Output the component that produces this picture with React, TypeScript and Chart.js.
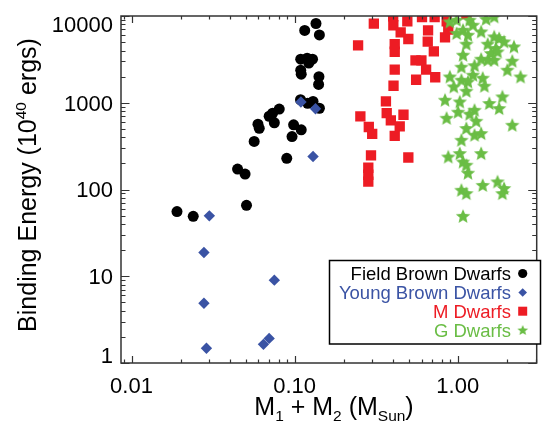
import { useEffect, useRef } from 'react';
import { Chart, registerables } from 'chart.js';

Chart.register(...registerables);

// ---------------- data ----------------
const fieldMass = [0.019, 0.0239, 0.0507, 0.0447, 0.0497, 0.0565, 0.0596, 0.0607, 0.0698, 0.0733, 0.0751, 0.0805, 0.0895, 0.0964, 0.0986, 0.1098, 0.1087, 0.1202, 0.1297, 0.1419, 0.1352, 0.1153, 0.1419, 0.109, 0.1193, 0.1288, 0.1222, 0.109, 0.1098, 0.141, 0.1403];
const fieldEnergy = [55.7, 49.1, 65.7, 172, 150.5, 358, 565, 508, 699, 757, 588, 846, 229, 408, 557, 488, 1083, 987, 1035, 864, 8194, 6823, 6053, 3175, 3262, 3175, 2870, 2371, 2132, 1995, 1626];

const youngMass = [0.030, 0.0278, 0.0278, 0.0288, 0.0751, 0.0644, 0.0698, 0.1093, 0.1343, 0.1297];
const youngEnergy = [49.7, 18.8, 4.89, 1.48, 9.02, 1.64, 1.92, 1019, 853, 240];

const mMass = [0.306, 0.402, 0.403, 0.491, 0.604, 0.722, 0.856, 1.13, 0.447, 0.498, 0.658, 0.655, 0.836, 0.875, 0.245, 0.411, 0.411, 0.714, 0.551, 0.599, 0.640, 0.411, 0.556, 0.728, 0.404, 0.363, 0.253, 0.367, 0.465, 0.389, 0.285, 0.441, 0.299, 0.411, 0.294, 0.498, 0.283, 0.283, 0.283];
const mEnergy = [8150, 9900, 7830, 8665, 9690, 9690, 8665, 10500, 6475, 5435, 6823, 5055, 5660, 6950, 4583, 4731, 3873, 3908, 3078, 3078, 2405, 2405, 1841, 1968, 1571, 1035, 695, 760, 727, 625, 525, 533, 438, 416, 247, 234, 178, 148, 123];

const gMass = [0.895, 0.984, 1.183, 1.239, 1.493, 1.675, 1.078, 0.984, 1.156, 1.392, 1.130, 1.675, 1.795, 1.924, 1.527, 2.212, 1.714, 1.078, 1.600, 1.754, 1.392, 1.527, 1.675, 2.161, 1.054, 1.268, 2.015, 2.428, 0.895, 1.239, 1.423, 1.054, 1.458, 1.156, 0.946, 1.130, 1.880, 0.836, 1.563, 1.795, 1.030, 1.268, 1.005, 0.855, 1.183, 1.299, 2.161, 1.130, 1.268, 1.392, 1.054, 0.875, 1.030, 1.078, 1.130, 1.392, 1.156, 1.054, 1.130, 1.423, 1.754, 1.924, 1.880, 1.078];
const gEnergy = [8665, 9065, 9065, 7939, 9311, 9894, 6950, 6366, 6087, 6640, 4792, 5820, 5575, 5096, 4792, 4460, 4275, 3580, 3743, 3908, 3218, 3133, 3133, 3050, 2602, 2707, 2404, 2010, 2010, 2104, 1942, 1842, 1571, 1760, 1542, 1375, 1183, 1083, 992, 868, 1035, 830, 788, 671, 747, 620, 557, 511, 428, 447, 374, 240, 263, 210, 193, 263, 156, 99.3, 90.9, 113, 124, 104, 90.9, 49.7];

const seriesNames = ['Field Brown Dwarfs', 'Young Brown Dwarfs', 'M Dwarfs', 'G Dwarfs'];
const seriesColors = ['#000000', '#3a53a4', '#ed1c24', '#6abd45'];

const xTickValues = [0.01, 0.1, 1];
const xTickLabels = ['0.01', '0.10', '1.00'];
const yTickValues = [1, 10, 100, 1000, 10000];
const yTickLabels = ['1', '10', '100', '1000', '10000'];

const FONT = '"Liberation Sans", Arial, Helvetica, sans-serif';

function makeStar(R: number, color: string) {
  const size = Math.ceil(R * 2 + 2);
  const c = document.createElement('canvas');
  c.width = size;
  c.height = size;
  const ctx = c.getContext('2d')!;
  const cx = size / 2;
  const cy = size / 2 + R * 0.1;
  const r = R * 0.45;
  ctx.beginPath();
  for (let i = 0; i < 10; i++) {
    const a = -Math.PI / 2 + (i * Math.PI) / 5;
    const rr = i % 2 === 0 ? R : r;
    ctx.lineTo(cx + rr * Math.cos(a), cy + rr * Math.sin(a));
  }
  ctx.closePath();
  ctx.fillStyle = color;
  ctx.fill();
  return c;
}

type Seg = { t: string; s?: 'sub' | 'sup' };

function segWidth(ctx: CanvasRenderingContext2D, segs: Seg[], size: number) {
  let w = 0;
  for (const sg of segs) {
    ctx.font = `${sg.s ? size * 0.62 : size}px ${FONT}`;
    w += ctx.measureText(sg.t).width;
  }
  return w;
}

function drawSegs(ctx: CanvasRenderingContext2D, segs: Seg[], size: number, cx: number, by: number) {
  const w = segWidth(ctx, segs, size);
  let x = cx - w / 2;
  ctx.textAlign = 'left';
  ctx.textBaseline = 'alphabetic';
  for (const sg of segs) {
    const fs = sg.s ? size * 0.62 : size;
    ctx.font = `${fs}px ${FONT}`;
    const dy = sg.s === 'sub' ? size * 0.22 : sg.s === 'sup' ? -size * 0.42 : 0;
    ctx.fillText(sg.t, x, by + dy);
    x += ctx.measureText(sg.t).width;
  }
}

const framePlugin = {
  id: 'idlFrame',
  afterDatasetsDraw(chart: any) {
    const ctx: CanvasRenderingContext2D = chart.ctx;
    const { left, right, top, bottom } = chart.chartArea;
    const xs = chart.scales.x;
    const ys = chart.scales.y;
    ctx.save();
    ctx.strokeStyle = '#333333';
    ctx.lineWidth = 1.5;
    ctx.strokeRect(left, top, right - left, bottom - top);

    ctx.lineWidth = 1.2;
    ctx.beginPath();
    for (let e = -3; e <= 1; e++) {
      for (let m = 1; m <= 9; m++) {
        const v = m * Math.pow(10, e);
        if (v < xs.min || v > xs.max) continue;
        const px = Math.round(xs.getPixelForValue(v)) + 0.5;
        const len = m === 1 ? 7 : 3.5;
        ctx.moveTo(px, bottom);
        ctx.lineTo(px, bottom - len);
        ctx.moveTo(px, top);
        ctx.lineTo(px, top + len);
      }
    }
    for (let e = 0; e <= 4; e++) {
      for (let m = 1; m <= 9; m++) {
        const v = m * Math.pow(10, e);
        if (v < ys.min || v > ys.max) continue;
        const py = Math.round(ys.getPixelForValue(v)) + 0.5;
        const len = m === 1 ? 8.5 : 4.5;
        ctx.moveTo(left, py);
        ctx.lineTo(left + len, py);
        ctx.moveTo(right, py);
        ctx.lineTo(right - len, py);
      }
    }
    ctx.stroke();

    ctx.fillStyle = '#000';
    const tfs = 22;
    ctx.font = `${tfs}px ${FONT}`;
    ctx.textAlign = 'center';
    ctx.textBaseline = 'alphabetic';
    xTickValues.forEach((v, i) => {
      ctx.fillText(xTickLabels[i], xs.getPixelForValue(v), 393);
    });
    ctx.textAlign = 'right';
    const half = tfs * 0.716 / 2;
    yTickValues.forEach((v, i) => {
      let cy = ys.getPixelForValue(v);
      cy = Math.max(top + half, Math.min(bottom - half, cy));
      ctx.fillText(yTickLabels[i], 113, cy + half);
    });

    const titleSize = 25;
    drawSegs(ctx, [{ t: 'M' }, { t: '1', s: 'sub' }, { t: ' + M' }, { t: '2', s: 'sub' }, { t: ' (M' }, { t: 'Sun', s: 'sub' }, { t: ')' }], titleSize, 334, 415);
    ctx.save();
    ctx.translate(36, 185);
    ctx.rotate(-Math.PI / 2);
    drawSegs(ctx, [{ t: 'Binding Energy (10' }, { t: '40', s: 'sup' }, { t: ' ergs)' }], titleSize, 0, 0);
    ctx.restore();

    const lx = 329.5, ly = 260.5, lw = 211, lh = 83.5;
    ctx.fillStyle = '#fff';
    ctx.fillRect(lx, ly, lw, lh);
    ctx.strokeStyle = '#000';
    ctx.lineWidth = 1.5;
    ctx.strokeRect(lx, ly, lw, lh);
    const lfs = 18.5;
    ctx.font = `${lfs}px ${FONT}`;
    ctx.textAlign = 'right';
    const rowY = [273.5, 292.5, 311.2, 330];
    const mx = 522.7;
    seriesNames.forEach((name, i) => {
      const cy = rowY[i];
      ctx.fillStyle = seriesColors[i];
      ctx.fillText(name, 511, cy + lfs * 0.716 / 2);
      ctx.beginPath();
      if (i === 0) {
        ctx.arc(mx, cy, 4.6, 0, Math.PI * 2);
        ctx.fill();
      } else if (i === 1) {
        const r = 4.3;
        ctx.moveTo(mx - r, cy);
        ctx.lineTo(mx, cy - r);
        ctx.lineTo(mx + r, cy);
        ctx.lineTo(mx, cy + r);
        ctx.closePath();
        ctx.fill();
      } else if (i === 2) {
        ctx.fillRect(mx - 4.5, cy - 4.5, 9, 9);
      } else {
        const st = makeStar(5.6, seriesColors[3]);
        ctx.drawImage(st, mx - st.width / 2, cy - st.height / 2);
      }
    });
    ctx.restore();
  },
};

function pts(xs: number[], ys: number[]) {
  return xs.map((x, i) => ({ x, y: ys[i] }));
}

export default function App() {
  const ref = useRef<HTMLCanvasElement | null>(null);
  useEffect(() => {
    if (!ref.current) return;
    const star = makeStar(7.6, seriesColors[3]);
    const chart = new Chart(ref.current, {
      type: 'scatter',
      data: {
        datasets: [
          { label: seriesNames[0], data: pts(fieldMass, fieldEnergy), pointStyle: 'circle', pointRadius: 5.5, backgroundColor: seriesColors[0], borderColor: seriesColors[0], borderWidth: 0, clip: 0, order: 4 } as any,
          { label: seriesNames[1], data: pts(youngMass, youngEnergy), pointStyle: 'rectRot', pointRadius: 5.7, backgroundColor: seriesColors[1], borderColor: seriesColors[1], borderWidth: 0, clip: 0, order: 3 } as any,
          { label: seriesNames[2], data: pts(mMass, mEnergy), pointStyle: 'rect', pointRadius: 7.3, backgroundColor: seriesColors[2], borderColor: seriesColors[2], borderWidth: 0, clip: 0, order: 2 } as any,
          { label: seriesNames[3], data: pts(gMass, gEnergy), pointStyle: star, pointRadius: 7, backgroundColor: seriesColors[3], borderColor: seriesColors[3], borderWidth: 0, clip: 0, order: 1 } as any,
        ],
      },
      options: {
        animation: false,
        responsive: false,
        maintainAspectRatio: false,
        events: [],
        layout: { padding: { left: 121, top: 16, right: 1, bottom: 61 } },
        plugins: { legend: { display: false }, tooltip: { enabled: false } },
        scales: {
          x: { type: 'logarithmic', min: 0.00862, max: 3.05, display: false },
          y: { type: 'logarithmic', min: 1, max: 10000, display: false },
        },
      },
      plugins: [framePlugin],
    });
    return () => chart.destroy();
  }, []);
  return (
    <div style={{ position: 'absolute', left: 0, top: 0, width: 544, height: 424, background: '#fff' }}>
      <canvas ref={ref} width={544} height={424} style={{ display: 'block', width: 544, height: 424 }} />
    </div>
  );
}
